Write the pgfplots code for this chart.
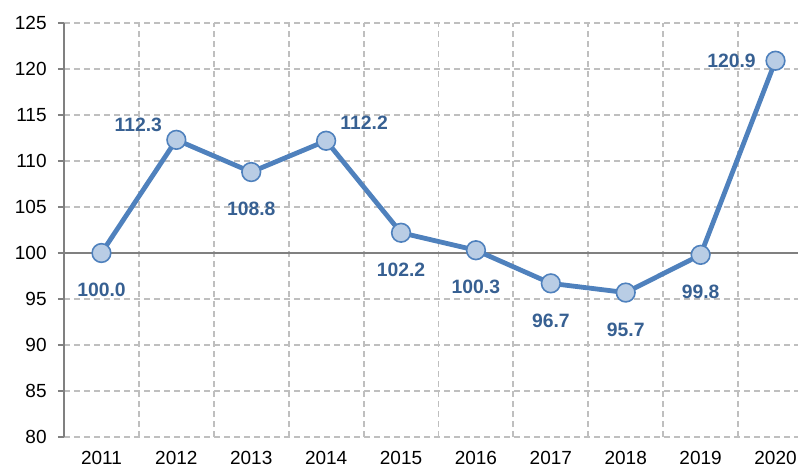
\documentclass[border=0pt]{standalone}
\usepackage{fontspec}
\setmainfont{Liberation Sans}
\usepackage{pgfplots}
\pgfplotsset{compat=1.18}
\definecolor{lineblue}{RGB}{79,129,189}
\definecolor{markfill}{RGB}{185,205,229}
\definecolor{labelblue}{RGB}{55,96,146}
\definecolor{gridgray}{RGB}{191,191,191}
\definecolor{axisgray}{RGB}{128,128,128}
\begin{document}
\begin{tikzpicture}
\begin{axis}[
  at={(0,0)}, anchor=south west,
  scale only axis, width=550.5pt, height=310.5pt,
  xmin=-0.5, xmax=9.3, ymin=80, ymax=125,
  ytick={80,85,...,125},
  xtick={0,...,9}, xticklabels={2011,2012,2013,2014,2015,2016,2017,2018,2019,2020},
  minor xtick={0.5,1.5,...,8.5},
  xmajorgrids=false, xminorgrids=true, ymajorgrids=true,
  grid style={draw=gridgray, line width=1.4pt, dash pattern=on 4.5pt off 3pt},
  minor grid style={draw=gridgray, line width=1.4pt, dash pattern=on 4.5pt off 3pt},
  axis y line*=left, axis x line*=bottom,
  x axis line style={draw=none},
  y axis line style={draw=axisgray, line width=1.5pt, -},
  xtick style={draw=none}, minor x tick style={draw=none},
  ytick style={draw=axisgray, line width=1.5pt},
  tick align=outside, major tick length=4.5pt,
  extra y ticks={100}, extra y tick labels={},
  extra y tick style={grid style={solid, draw=axisgray, line width=1.5pt}},
  /pgf/number format/assume math mode=true,
  tick label style={font=\fontsize{14.25}{16}\selectfont, text=black},
  xticklabel style={anchor=center, inner sep=0pt, yshift=-11.5pt},
  yticklabel style={anchor=east, xshift=-5pt},
  clip=false,
]
\addplot[draw=lineblue, line width=3.6pt, mark=*, mark size=7pt,
  mark options={fill=markfill, draw=lineblue, line width=1.2pt, solid}]
  coordinates {(0,100.0) (1,112.3) (2,108.8) (3,112.2) (4,102.2) (5,100.3) (6,96.7) (7,95.7) (8,99.8) (9,120.9)};
% labels below
\addplot[draw=none, mark=none, nodes near coords,
  /pgf/number format/.cd, fixed, fixed zerofill, precision=1, /pgfplots/.cd,
  every node near coord/.append style={anchor=center, yshift=-27.75pt,
    font=\bfseries\fontsize{14.5}{16}\selectfont, text=labelblue}]
  coordinates {(0,100.0) (2,108.8) (4,102.2) (5,100.3) (6,96.7) (7,95.7) (8,99.8)};
% 2012 above-left
\addplot[draw=none, mark=none, nodes near coords,
  /pgf/number format/.cd, fixed, fixed zerofill, precision=1, /pgfplots/.cd,
  every node near coord/.append style={anchor=center, xshift=-28.5pt, yshift=11.25pt,
    font=\bfseries\fontsize{14.5}{16}\selectfont, text=labelblue}]
  coordinates {(1,112.3)};
% 2014 above-right
\addplot[draw=none, mark=none, nodes near coords,
  /pgf/number format/.cd, fixed, fixed zerofill, precision=1, /pgfplots/.cd,
  every node near coord/.append style={anchor=center, xshift=28.5pt, yshift=13.5pt,
    font=\bfseries\fontsize{14.5}{16}\selectfont, text=labelblue}]
  coordinates {(3,112.2)};
% 2020 left
\addplot[draw=none, mark=none, nodes near coords,
  /pgf/number format/.cd, fixed, fixed zerofill, precision=1, /pgfplots/.cd,
  every node near coord/.append style={anchor=center, xshift=-33pt, yshift=0pt,
    font=\bfseries\fontsize{14.5}{16}\selectfont, text=labelblue}]
  coordinates {(9,120.9)};
\end{axis}
\pgfresetboundingbox
\path[use as bounding box] (-48pt,-24.75pt) rectangle (550.5pt,327.75pt);
\end{tikzpicture}
\end{document}
